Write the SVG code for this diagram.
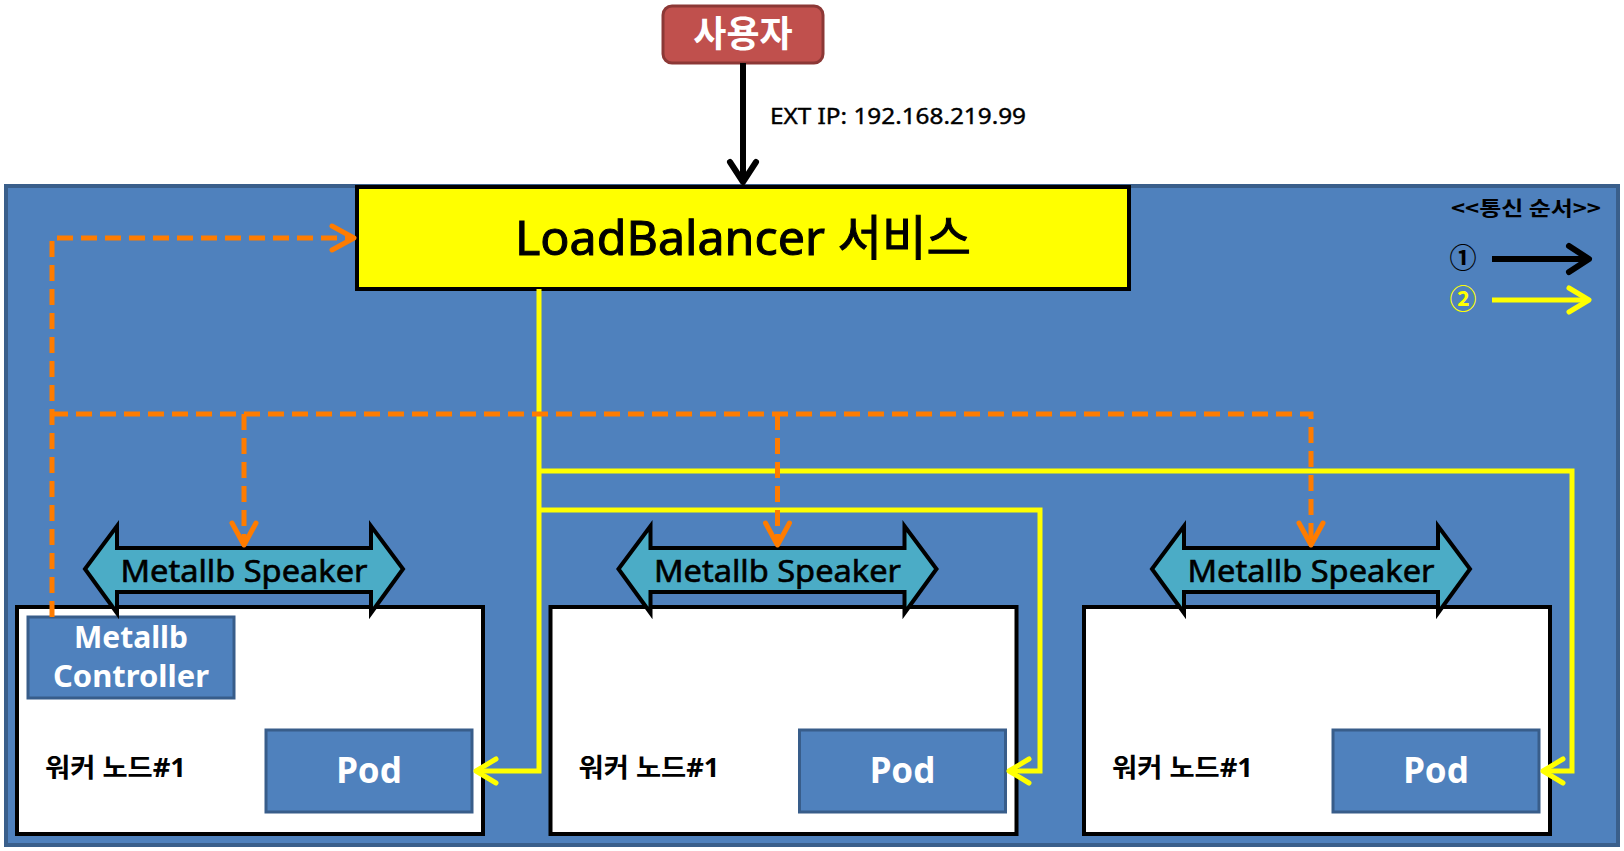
<svg xmlns="http://www.w3.org/2000/svg" width="1624" height="851" viewBox="0 0 1624 851">
<style>
text{font-family:'Noto Sans','Noto Sans CJK KR',sans-serif}
.kr{font-family:'Noto Sans CJK KR','Noto Sans',sans-serif}
.blue{fill:#4F81BD;stroke:#385D8A;stroke-width:3}
.node{fill:#FFFFFF;stroke:#000;stroke-width:4}
.spk{fill:#4BACC6;stroke:#000;stroke-width:4;stroke-linejoin:miter}
.spkt{font-size:30px;fill:#000;stroke:#000;stroke-width:0.6;text-anchor:middle}
.podt{font-size:35px;fill:#FFF;font-weight:bold;text-anchor:middle}
.lbl{font-size:26px;fill:#000;font-weight:bold}
.or{fill:none;stroke:#FF7C00;stroke-width:5;stroke-dasharray:16 8}
.ye{fill:none;stroke:#FFFF00;stroke-width:5}
.bk{fill:none;stroke:#000;stroke-width:6}
</style>
<defs>
<marker id="mO" markerUnits="userSpaceOnUse" markerWidth="40" markerHeight="40" refX="0" refY="0" orient="auto" overflow="visible"><path d="M-22,-12 L0,0 L-22,12" fill="none" stroke="#FF7C00" stroke-width="5" stroke-linecap="round" stroke-linejoin="round"/></marker>
<marker id="mY" markerUnits="userSpaceOnUse" markerWidth="40" markerHeight="40" refX="0" refY="0" orient="auto" overflow="visible"><path d="M-20,-12 L0,0 L-20,12" fill="none" stroke="#FFFF00" stroke-width="5" stroke-linecap="round" stroke-linejoin="round"/></marker>
<marker id="mK" markerUnits="userSpaceOnUse" markerWidth="40" markerHeight="40" refX="0" refY="0" orient="auto" overflow="visible"><path d="M-20,-13 L0,0 L-20,13" fill="none" stroke="#000" stroke-width="6" stroke-linecap="round" stroke-linejoin="round"/></marker>
<path id="spkShape" d="M85,569 L117,526 L117,548 L371,548 L371,526 L403,569 L371,613 L371,592 L117,592 L117,613 Z"/>
</defs>

<rect id="cluster" x="6" y="186" width="1612" height="659" fill="#4F81BD" stroke="#3A5F8B" stroke-width="4"/>

<g id="node-user">
<rect x="663" y="6" width="160" height="57" rx="9" fill="#C0504D" stroke="#8C3836" stroke-width="3"/>
<text class="kr" x="743" y="47" font-size="36" font-weight="bold" fill="#FFF" text-anchor="middle">사용자</text>
</g>

<g id="node-lb">
<rect x="357" y="187" width="772" height="102" fill="#FFFF00" stroke="#000" stroke-width="4"/>
<text x="743" y="255" font-size="48" fill="#000" stroke="#000" stroke-width="1" text-anchor="middle" textLength="456" lengthAdjust="spacingAndGlyphs">LoadBalancer 서비스</text>
</g>

<g id="legend">
<text class="kr" x="1451" y="216" font-size="20" font-weight="bold" fill="#000" textLength="150" lengthAdjust="spacingAndGlyphs">&lt;&lt;통신 순서&gt;&gt;</text>
<text class="kr" x="1463" y="268" font-size="27" font-weight="bold" fill="#000" text-anchor="middle">①</text>
<text class="kr" x="1463" y="309" font-size="27" font-weight="bold" fill="#FFFF00" text-anchor="middle">②</text>
<path d="M1492,259 H1589" class="bk" marker-end="url(#mK)"/>
<path d="M1492,300 H1589" class="ye" marker-end="url(#mY)"/>
</g>

<g id="node-worker1">
<rect class="node" x="17" y="607" width="466" height="227"/>
<text class="lbl" x="45" y="777" textLength="141" lengthAdjust="spacingAndGlyphs">워커 노드#1</text>
</g>
<g id="node-worker2" transform="translate(533.5,0)">
<rect class="node" x="17" y="607" width="466" height="227"/>
<text class="lbl" x="45" y="777" textLength="141" lengthAdjust="spacingAndGlyphs">워커 노드#1</text>
</g>
<g id="node-worker3" transform="translate(1067,0)">
<rect class="node" x="17" y="607" width="466" height="227"/>
<text class="lbl" x="45" y="777" textLength="141" lengthAdjust="spacingAndGlyphs">워커 노드#1</text>
</g>

<g id="node-controller">
<rect class="blue" x="28" y="617" width="206" height="81"/>
<text x="131" y="648" font-size="30" font-weight="bold" fill="#FFF" text-anchor="middle" textLength="114" lengthAdjust="spacingAndGlyphs">Metallb</text>
<text x="131" y="687" font-size="30" font-weight="bold" fill="#FFF" text-anchor="middle" textLength="156" lengthAdjust="spacingAndGlyphs">Controller</text>
</g>

<g id="node-pod1">
<rect class="blue" x="266" y="730" width="206" height="82"/>
<text class="podt" x="369" y="783">Pod</text>
</g>
<g id="node-pod2" transform="translate(533.5,0)">
<rect class="blue" x="266" y="730" width="206" height="82"/>
<text class="podt" x="369" y="783">Pod</text>
</g>
<g id="node-pod3" transform="translate(1067,0)">
<rect class="blue" x="266" y="730" width="206" height="82"/>
<text class="podt" x="369" y="783">Pod</text>
</g>

<g id="node-speaker1">
<use href="#spkShape" class="spk"/>
<text class="spkt" x="244" y="582" textLength="247" lengthAdjust="spacingAndGlyphs">Metallb Speaker</text>
</g>
<g id="node-speaker2" transform="translate(533.5,0)">
<use href="#spkShape" class="spk"/>
<text class="spkt" x="244" y="582" textLength="247" lengthAdjust="spacingAndGlyphs">Metallb Speaker</text>
</g>
<g id="node-speaker3" transform="translate(1067,0)">
<use href="#spkShape" class="spk"/>
<text class="spkt" x="244" y="582" textLength="247" lengthAdjust="spacingAndGlyphs">Metallb Speaker</text>
</g>

<g id="connectors">
<path class="bk" d="M743,63 V182" marker-end="url(#mK)"/>
<text x="770" y="124" font-size="21" fill="#000" stroke="#000" stroke-width="0.4" textLength="256" lengthAdjust="spacingAndGlyphs">EXT IP:  192.168.219.99</text>
<path class="ye" d="M539,289 V771 H476" marker-end="url(#mY)"/>
<path class="ye" d="M539,510 H1040 V771 H1009" marker-end="url(#mY)"/>
<path class="ye" d="M539,471 H1572 V771 H1543" marker-end="url(#mY)"/>
<path class="or" d="M52,617 V238 H354" marker-end="url(#mO)"/>
<path class="or" d="M52,414 H1311 V545" marker-end="url(#mO)"/>
<path class="or" d="M244,414 V545" marker-end="url(#mO)"/>
<path class="or" d="M777.5,414 V545" marker-end="url(#mO)"/>
</g>
</svg>
